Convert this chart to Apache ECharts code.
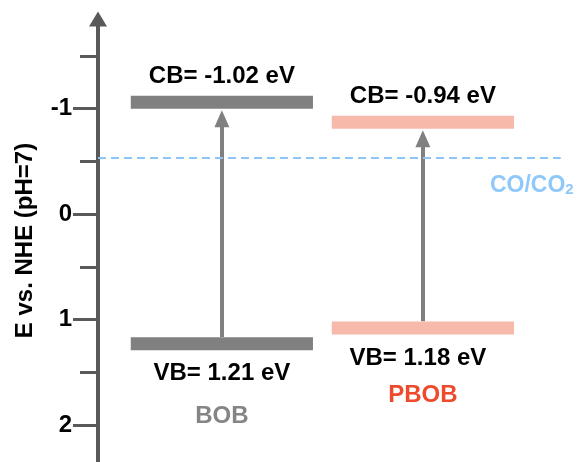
<!DOCTYPE html>
<html><head><meta charset="utf-8">
<script src="https://cdn.jsdelivr.net/npm/echarts@6/dist/echarts.min.js"></script>
<style>html,body{margin:0;padding:0;background:#fff}#c{width:580px;height:462px}</style>
</head><body><div id="c"></div>
<script>
// ---- data ----
const materials = ['BOB', 'PBOB'];
const cbLabelValues = [-1.02, -0.94];   // printed CB values (eV)
const vbLabelValues = [1.21, 1.18];     // printed VB values (eV)
const cbLevels = [-1.06, -0.87];        // CB bar positions as drawn
const vbLevels = [1.23, 1.08];          // VB bar positions as drawn
const xCenters = [2.57, 6.74];          // bar centres on the hidden x scale
const halfWidth = 1.89;
const redoxLevel = -0.53;               // CO/CO2
const redoxName = 'CO/CO';
const majorTicks = [-1, 0, 1, 2];
const minorTicks = [-1.5, -0.5, 0.5, 1.5];
const barColors = ['#808080', '#f7b9aa'];
const nameColors = ['#858585', '#ee4a2c'];

const FONT = 'Liberation Sans, Arial, sans-serif';
const barThick = 13;
const arrowStartGap = 0.065;
const arrowEndGap = 0.155;

const series = [];
materials.forEach((m, i) => {
  const xc = xCenters[i];
  [cbLevels[i], vbLevels[i]].forEach(lv => {
    series.push({
      type: 'line', silent: true, symbol: 'none', animation: false,
      data: [[xc - halfWidth, lv], [xc + halfWidth, lv]],
      lineStyle: { width: barThick, color: barColors[i], cap: 'butt' }
    });
  });
  // arrow VB -> CB
  series.push({
    type: 'line', silent: true, symbol: 'none', data: [], animation: false,
    markLine: {
      silent: true, animation: false,
      symbol: ['none', 'triangle'], symbolSize: [15, 17],
      label: { show: false },
      lineStyle: { color: '#808080', width: 4, type: 'solid' },
      emphasis: { disabled: true },
      data: [[{ coord: [xc, vbLevels[i] - arrowStartGap] }, { coord: [xc, cbLevels[i] + arrowEndGap] }]]
    }
  });
  // labels
  series.push({
    type: 'scatter', silent: true, symbolSize: 0, animation: false,
    itemStyle: { opacity: 1 },
    label: { show: true, position: 'inside', fontFamily: FONT, fontWeight: 'bold', fontSize: 24, color: '#000' },
    data: [
      { value: [xc, cbLevels[i]], label: { formatter: 'CB= ' + cbLabelValues[i].toFixed(2) + ' eV', offset: [0, -26] } },
      { value: [xc, vbLevels[i]], label: { formatter: 'VB= ' + vbLabelValues[i].toFixed(2) + ' eV', offset: [i ? -5 : 0, 30] } },
      { value: [xc, vbLevels[i]], label: { formatter: m, color: nameColors[i], offset: [0, i ? 67 : 73] } }
    ]
  });
});
// CO/CO2 dashed line
series.push({
  type: 'line', silent: true, symbol: 'none', data: [], animation: false,
  markLine: {
    silent: true, animation: false, symbol: ['none', 'none'],
    label: { show: false },
    lineStyle: { color: '#8ec5f7', width: 2, type: [8, 5] },
    emphasis: { disabled: true },
    data: [[{ coord: [0, redoxLevel] }, { coord: [9.6, redoxLevel] }]]
  }
});
series.push({
  type: 'scatter', silent: true, symbolSize: 0, animation: false,
  itemStyle: { opacity: 1 },
  label: {
    show: true, position: 'inside', offset: [0, 27],
    formatter: '{a|' + redoxName + '}{b|2}',
    rich: {
      a: { fontFamily: FONT, fontWeight: 'bold', fontSize: 23, color: '#8fc8fa' },
      b: { fontFamily: FONT, fontWeight: 'bold', fontSize: 15, color: '#8fc8fa', padding: [10, 0, 0, 0] }
    }
  },
  data: [[9.0, redoxLevel]]
});

const axisColor = '#595959';
const chart = echarts.init(document.getElementById('c'), null, { renderer: 'canvas' });
chart.setOption({
  animation: false,
  grid: { left: 98, right: 0, top: 19, bottom: 0, containLabel: false },
  xAxis: { type: 'value', min: 0, max: 10, show: false },
  yAxis: [
    {
      type: 'value', inverse: true, min: -1.85, max: 2.35, position: 'left',
      name: 'E vs. NHE (pH=7)', nameLocation: 'middle', nameRotate: 90, nameGap: 61,
      nameTextStyle: { fontFamily: FONT, fontWeight: 'bold', fontSize: 24, color: '#000' },
      axisLine: { show: true, lineStyle: { color: axisColor, width: 4 }, symbol: ['none', 'triangle'], symbolSize: [18, 15] },
      axisTick: { show: true, customValues: majorTicks, length: 25, lineStyle: { color: axisColor, width: 3 } },
      axisLabel: { show: true, customValues: majorTicks, margin: 26, fontFamily: FONT, fontWeight: 'bold', fontSize: 24, color: '#000' },
      splitLine: { show: false }
    },
    {
      type: 'value', inverse: true, min: -1.85, max: 2.35, position: 'left', offset: 0,
      axisLine: { show: false },
      axisTick: { show: true, customValues: minorTicks, length: 18, lineStyle: { color: axisColor, width: 3 } },
      axisLabel: { show: false },
      splitLine: { show: false }
    }
  ],
  series: series
});
</script>
</body></html>
